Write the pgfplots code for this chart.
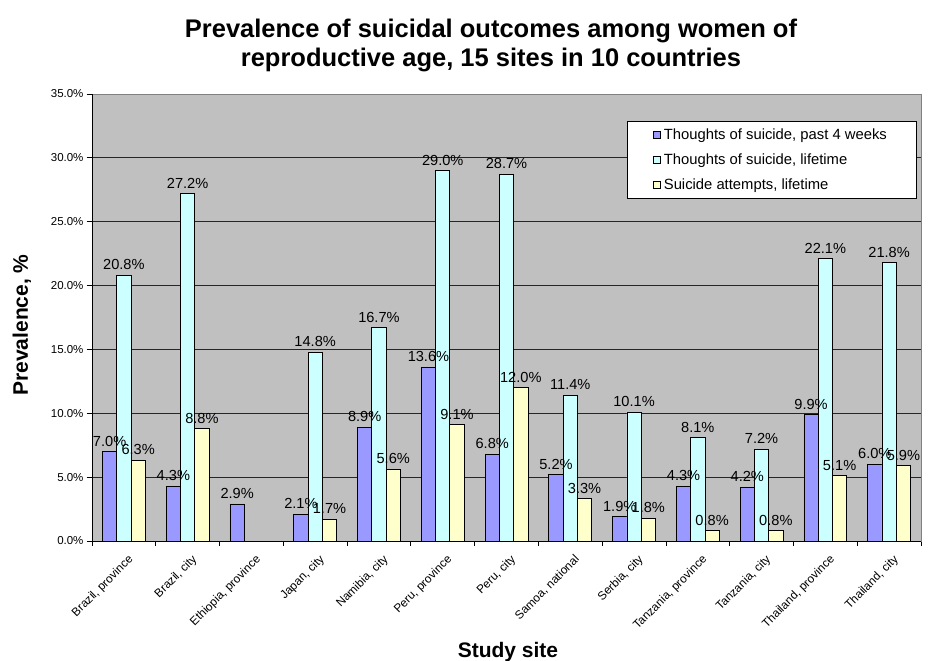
\documentclass[border=0pt]{standalone}
\usepackage{pgfplots}
\pgfplotsset{compat=1.18}
\usepackage{fontspec}
\setmainfont{Liberation Sans}
\definecolor{cA}{HTML}{9999FF}
\definecolor{cB}{HTML}{CCFFFF}
\definecolor{cC}{HTML}{FFFFCC}
\definecolor{bg}{HTML}{C0C0C0}
\begin{document}
\begin{tikzpicture}[x=1pt,y=1pt]
\path[use as bounding box] (0,0) rectangle (930,661);
\begin{axis}[
  at={(92pt,120pt)}, anchor=south west,
  scale only axis, width=829pt, height=447pt,
  xmin=-0.5, xmax=12.5, ymin=0, ymax=35,
  ybar=0pt, bar width=0.224,
  axis background/.style={fill=bg},
  axis line style={draw=gray, line width=0.8pt},
  xtick={0,...,12},
  xticklabels={{Brazil, province},{Brazil, city},{Ethiopia, province},{Japan, city},{Namibia, city},{Peru, province},{Peru, city},{Samoa, national},{Serbia, city},{Tanzania, province},{Tanzania, city},{Thailand, province},{Thailand, city}},
  major x tick style={draw=none},
  minor xtick={-0.5,0.5,...,12.5},
  minor tick length=5pt,
  minor x tick style={black, line width=0.8pt},
  ytick={0,5,...,35},
  major tick length=5pt,
  tick align=outside,
  ytick pos=left, xtick pos=bottom,
  y tick style={black, line width=0.8pt},
  ymajorgrids,
  major grid style={black!85, line width=0.9pt},
  yticklabel={\pgfmathprintnumber[fixed,fixed zerofill,precision=1]{\tick}\%},
  yticklabel style={font=\fontsize{11.5}{13}\selectfont, /pgf/number format/assume math mode=true},
  xticklabel style={font=\fontsize{11.8}{13}\selectfont, rotate=45, anchor=north east, inner sep=1pt, xshift=-2pt, yshift=-7pt},
  nodes near coords={\pgfmathprintnumber[fixed,fixed zerofill,precision=1]{\pgfplotspointmeta}\%},
  nodes near coords style={font=\fontsize{14.6}{16}\selectfont, black, anchor=south, inner sep=2pt, yshift=3pt, /pgf/number format/assume math mode=true},
  legend style={at={(0.994,0.94)}, anchor=north east, draw=black, fill=white,
    font=\fontsize{14.8}{16}\selectfont, row sep=8.5pt, inner xsep=26pt, inner ysep=6pt,
    legend cell align=left, nodes={inner xsep=3pt}},
  legend image code/.code={\draw[#1, draw=black, line width=0.6pt] (0pt,-3.5pt) rectangle (7pt,3.5pt);},
  clip=false,
]
\addplot[fill=cA, draw=black, line width=0.8pt] coordinates {(0,7.0) (1,4.3) (2,2.9) (3,2.1) (4,8.9) (5,13.6) (6,6.8) (7,5.2) (8,1.9) (9,4.3) (10,4.2) (11,9.9) (12,6.0)};
\addplot[fill=cB, draw=black, line width=0.8pt] coordinates {(0,20.8) (1,27.2) (3,14.8) (4,16.7) (5,29.0) (6,28.7) (7,11.4) (8,10.1) (9,8.1) (10,7.2) (11,22.1) (12,21.8)};
\addplot[fill=cC, draw=black, line width=0.8pt] coordinates {(0,6.3) (1,8.8) (3,1.7) (4,5.6) (5,9.1) (6,12.0) (7,3.3) (8,1.8) (9,0.8) (10,0.8) (11,5.1) (12,5.9)};
\legend{{Thoughts of suicide, past 4 weeks},{Thoughts of suicide, lifetime},{Suicide attempts, lifetime}}
\draw[black, line width=0.9pt] (rel axis cs:0,0) -- (rel axis cs:1,0);
\draw[black, line width=0.9pt] (rel axis cs:0,0) -- (rel axis cs:0,1);
\end{axis}
\node[font=\bfseries\fontsize{25.5}{29}\selectfont, align=center] at (491,616) {Prevalence of suicidal outcomes among women of\\reproductive age, 15 sites in 10 countries};
\node[font=\bfseries\fontsize{21}{24}\selectfont, rotate=90] at (22,336) {Prevalence, \%};
\node[font=\bfseries\fontsize{21}{24}\selectfont] at (508,9) {Study site};
\end{tikzpicture}
\end{document}
